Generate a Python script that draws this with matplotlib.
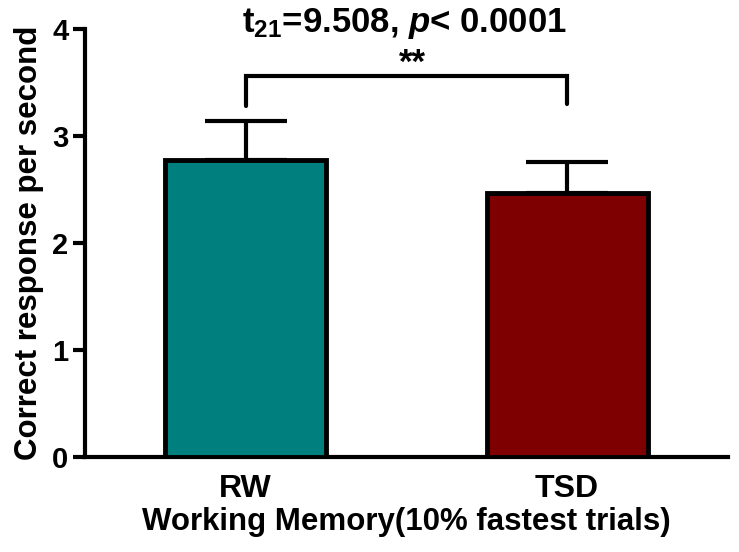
import matplotlib
matplotlib.use('Agg')
import matplotlib.pyplot as plt

# dados
grupos = ['RW', 'TSD']
medias = [2.78, 2.47]
erros = [0.36, 0.29]
cores = ['#007F7F', '#7F0000']
colchete_y = [3.28, 3.56, 3.56, 3.30]

plt.rcParams['font.family'] = 'Liberation Sans'
plt.rcParams['font.weight'] = 'bold'
plt.rcParams['mathtext.fontset'] = 'custom'
plt.rcParams['mathtext.rm'] = 'Liberation Sans:bold'
plt.rcParams['mathtext.bf'] = 'Liberation Sans:bold'
plt.rcParams['mathtext.it'] = 'Liberation Sans:bold:italic'

fig = plt.figure(figsize=(7.39, 5.52), dpi=100)
ax = fig.add_axes([0.115, 0.172, 0.870, 0.775])

x = range(len(grupos))
ax.bar(x, medias, width=0.5, color=cores, edgecolor='black', linewidth=3.5, zorder=3)
ax.errorbar(x, medias, yerr=[[0, 0], erros], fmt='none', ecolor='black',
            elinewidth=3, capsize=29.5, capthick=3, zorder=2)

# colchete de significancia
ax.plot([0, 0, 1, 1], colchete_y, color='black', linewidth=3,
        solid_capstyle='round', solid_joinstyle='miter', clip_on=False)
ax.text(0.52, colchete_y[1] - 0.03, '**', ha='center', va='bottom', fontsize=25, fontweight='bold')

ax.set_xlim(-0.5, 1.5)
ax.set_ylim(0, 4)
ax.set_yticks([0, 1, 2, 3, 4])
ax.set_xticks(list(x))
ax.set_xticklabels(grupos, fontsize=23, fontweight='bold')
ax.tick_params(axis='x', length=0, pad=12)
ax.tick_params(axis='y', length=9, width=3, labelsize=21, pad=3)
for lbl in ax.get_yticklabels():
    lbl.set_fontweight('bold')

ax.spines['top'].set_visible(False)
ax.spines['right'].set_visible(False)
ax.spines['left'].set_linewidth(3)
ax.spines['bottom'].set_linewidth(3)

ax.set_ylabel('Correct response per second', fontsize=22.5, fontweight='bold', labelpad=6)
ax.set_xlabel('Working Memory(10% fastest trials)', fontsize=22.5, fontweight='bold', labelpad=2)

fig.text(0.548, 0.958, r'$\mathbf{t_{21}}$=9.508, $\mathit{p}$< 0.0001',
         ha='center', va='center', fontsize=25, fontweight='bold')

fig.savefig('out.png', dpi=100)
